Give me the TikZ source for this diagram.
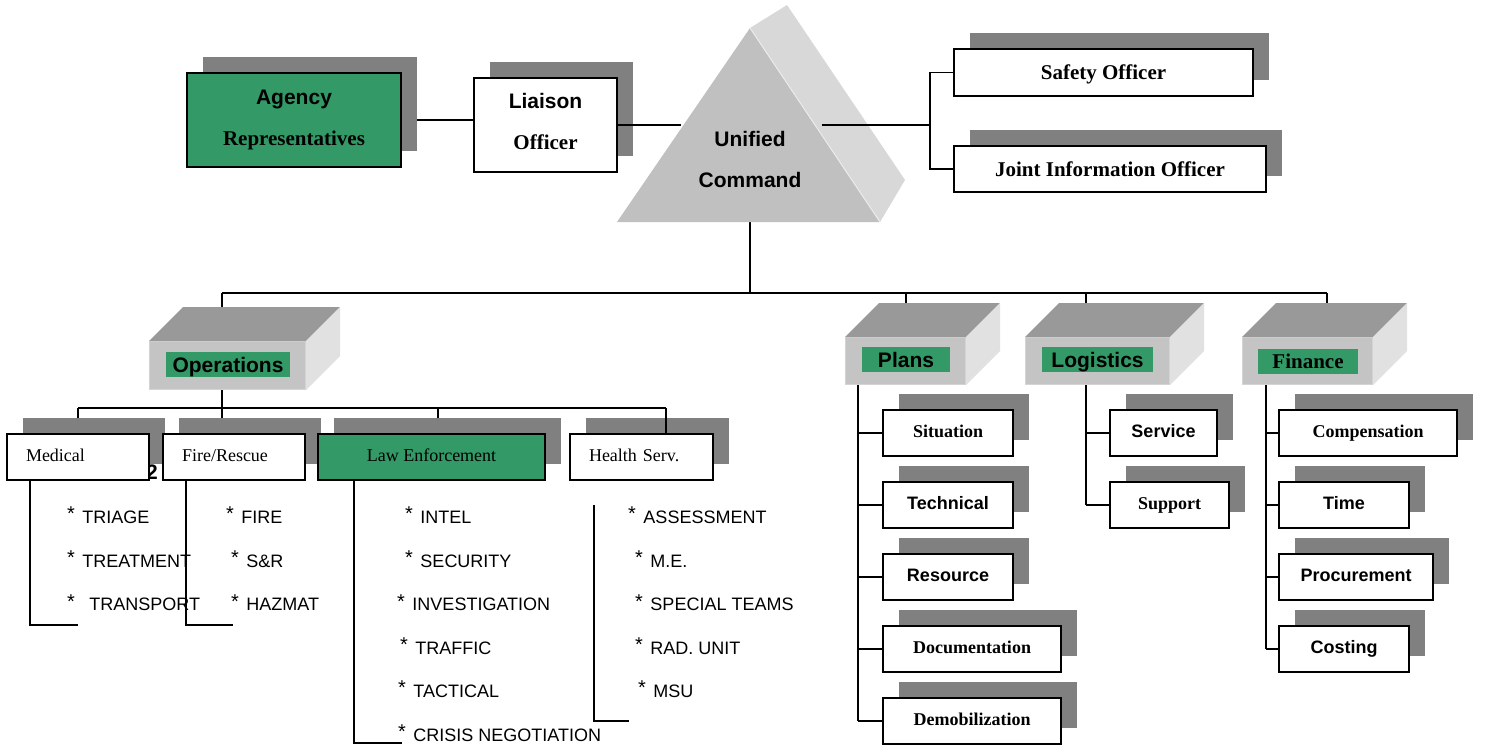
\documentclass[tikz,border=0pt]{standalone}
\usepackage{fontspec}
\setmainfont{Liberation Serif}
\newfontfamily\sansf{Liberation Sans}
\usetikzlibrary{calc,shadows}
\pgfdeclarelayer{back}
\pgfdeclarelayer{bg}
\pgfsetlayers{back,bg,main}
\definecolor{agreen}{RGB}{51,153,102}
\definecolor{shadowgray}{RGB}{128,128,128}
\definecolor{trifront}{RGB}{192,192,192}
\definecolor{triside}{RGB}{216,216,216}
\definecolor{boxtop}{RGB}{153,153,153}
\definecolor{boxfront}{RGB}{196,196,196}
\definecolor{boxedge}{RGB}{212,212,212}
\definecolor{boxside}{RGB}{225,225,225}
\newcommand\itemstar{\raisebox{2.5pt}{\fontsize{20}{20}\selectfont *}\kern7.5pt}
\newcommand\cubefaces[2]{%
  \fill[boxtop] (#1.north west) -- ++(#2,-#2) -- ($(#1.north east)+(#2,-#2)$) -- (#1.north east) -- cycle;
  \fill[boxside] (#1.north east) -- ++(#2,-#2) -- ($(#1.south east)+(#2,-#2)$) -- (#1.south east) -- cycle;}
\begin{document}
\begin{tikzpicture}[x=1pt,y=-1pt,
  conn/.style={line width=1.9pt},
  shbox/.style={draw=black,line width=2.2pt,fill=white,inner sep=0pt,
     general shadow={fill=shadowgray,shadow xshift=16pt,shadow yshift=16pt}},
  gfill/.style={fill=agreen},
  ttlsf/.style={font=\fontsize{21}{41}\selectfont\sansf\bfseries},
  ttlrm/.style={font=\fontsize{21}{41}\selectfont\bfseries},
  subsf/.style={shbox,minimum height=46pt,font=\fontsize{18}{22}\selectfont\sansf\bfseries,text height=9pt,text depth=0pt},
  subrm/.style={shbox,minimum height=46pt,font=\fontsize{18}{22}\selectfont\bfseries,text height=9pt,text depth=0pt},
  unitbox/.style={shbox,minimum height=46pt,font=\fontsize{18}{22}\selectfont,text height=8pt,text depth=0pt},
  item/.style={font=\fontsize{18}{22}\selectfont\sansf,anchor=base west,inner sep=0pt},
  front3d/.style={fill=boxfront,draw=boxedge,line width=1pt,inner sep=0pt},
  glabel/.style={fill=agreen,inner sep=0pt,minimum height=25pt,text height=15pt,text depth=0pt}
]
\begin{pgfonlayer}{back}
\fill[white] (0,0) rectangle (1487,747);
\end{pgfonlayer}
\useasboundingbox (0,0) rectangle (1487,747);

% ---------- Unified command triangle ----------
\fill[triside] (750,28) -- (787,5) -- (905,180) -- (880,222) -- cycle;
\fill[trifront] (617,222) -- (750,28) -- (880,222) -- cycle;
\draw[white!70!trifront,line width=1pt] (750,28) -- (880,222);
\node[ttlsf,align=center,inner sep=0pt] (uc) at (750,159.5) {Unified\\Command};
\coordinate (ucL) at (681,125);
\coordinate (ucR) at (822,125);
\coordinate (ucB) at (750,222);
\coordinate (brk) at (930,125);
\coordinate (bus) at (750,293);

% ---------- top boxes ----------
\node[shbox,gfill,minimum width=214pt,minimum height=94pt,ttlrm,align=center] (agency) at (294,120) {{\sansf Agency}\\Representatives};
\node[shbox,minimum width=143pt,minimum height=94pt,ttlrm,align=center] (liaison) at (545.5,125) {{\sansf Liaison}\\Officer\rule[-8pt]{0pt}{0pt}};
\node[shbox,minimum width=299pt,minimum height=47pt,ttlrm,text height=14pt,text depth=0pt] (safety) at (1103.5,72.5) {Safety Officer};
\node[shbox,minimum width=312pt,minimum height=46pt,ttlrm,text height=14pt,text depth=0pt] (jio) at (1110,169) {Joint Information Officer};

% ---------- section cubes ----------
\node[front3d,minimum width=156pt,minimum height=48pt] (ops) at (227.5,365.5) {};
\cubefaces{ops}{34}
\node[glabel,minimum width=124pt,ttlsf] (opsl) at (228,364.5) {Operations};

\node[front3d,minimum width=120pt,minimum height=47pt] (plans) at (905.5,361) {};
\cubefaces{plans}{34}
\node[glabel,minimum width=88pt,ttlsf] (plansl) at (906,359.5) {Plans};

\node[front3d,minimum width=144pt,minimum height=47pt] (logi) at (1097.5,361) {};
\cubefaces{logi}{34}
\node[glabel,minimum width=111pt,ttlsf] (logil) at (1097.5,359.5) {Logistics};

\node[front3d,minimum width=130pt,minimum height=47pt] (fin) at (1307.5,361) {};
\cubefaces{fin}{34}
\node[glabel,minimum width=100pt,ttlrm] (finl) at (1308,361) {Finance};

% ---------- operations units ----------
\node[font=\fontsize{21}{21}\selectfont\sansf\bfseries,anchor=base east,inner sep=0pt] (two) at (158,479) {2};
\node[unitbox,text width=104pt,align=left,inner xsep=19pt] (med) at (78,457) {Medical};
\node[unitbox,text width=104pt,align=left,inner xsep=19pt] (fire) at (234,457) {Fire/Rescue};
\node[unitbox,gfill,minimum width=227pt] (law) at (431.5,457) {Law Enforcement};
\node[unitbox,text width=105pt,align=left,inner xsep=19pt] (health) at (641.5,457) {Health Serv.};

\node[item] (m1) at (67,523) {\itemstar TRIAGE};
\node[item] (m2) at (67,567) {\itemstar TREATMENT};
\node[item] (m3) at (67,610.5) {\itemstar\kern7pt TRANSPORT};
\node[item] (f1) at (226,523) {\itemstar FIRE};
\node[item] (f2) at (231,567) {\itemstar S\&R};
\node[item] (f3) at (231,610.5) {\itemstar HAZMAT};
\node[item] (l1) at (405,523) {\itemstar INTEL};
\node[item] (l2) at (405,567) {\itemstar SECURITY};
\node[item] (l3) at (397,610.5) {\itemstar INVESTIGATION};
\node[item] (l4) at (400,654) {\itemstar TRAFFIC};
\node[item] (l5) at (398,697) {\itemstar TACTICAL};
\node[item] (l6) at (398,741) {\itemstar CRISIS NEGOTIATION};
\node[item] (h1) at (628,523) {\itemstar ASSESSMENT};
\node[item] (h2) at (635,567) {\itemstar M.E.};
\node[item] (h3) at (635,610.5) {\itemstar SPECIAL TEAMS};
\node[item] (h4) at (635,654) {\itemstar RAD. UNIT};
\node[item] (h5) at (638,697) {\itemstar MSU};

% ---------- plans / logistics / finance units ----------
\node[subrm,minimum width=130pt] (sit) at (948,433) {Situation};
\node[subsf,minimum width=130pt] (tech) at (948,505) {Technical};
\node[subsf,minimum width=130pt] (res) at (948,577) {Resource};
\node[subrm,minimum width=178pt] (doc) at (972,649) {Documentation};
\node[subrm,minimum width=178pt] (demob) at (972,721) {Demobilization};

\node[subsf,minimum width=107pt] (serv) at (1163.5,433) {Service};
\node[subrm,minimum width=119pt] (supp) at (1169.5,505) {Support};

\node[subrm,minimum width=178pt] (comp) at (1368,433) {Compensation};
\node[subsf,minimum width=130pt] (time) at (1344,505) {Time};
\node[subsf,minimum width=154pt] (proc) at (1356,577) {Procurement};
\node[subsf,minimum width=130pt] (cost) at (1344,649) {Costing};

% ---------- junction coordinates ----------
\coordinate (bOps) at (222,293);
\coordinate (bPlans) at (906,293);
\coordinate (bLog) at (1086,293);
\coordinate (bFin) at (1327,293);
\coordinate (sbM) at (78,408);
\coordinate (sbF) at (222,408);
\coordinate (sbL) at (438,408);
\coordinate (sbH) at (666,408);
\coordinate (mV) at (30,625);
\coordinate (mE) at (78,625);
\coordinate (fV) at (186,625);
\coordinate (fE) at (233,625);
\coordinate (lV) at (354,743);
\coordinate (lE) at (402,743);
\coordinate (hT) at (594,505);
\coordinate (hV) at (594,721);
\coordinate (hE) at (629,721);
\coordinate (pV) at (858,721);
\coordinate (lgV) at (1086,505);
\coordinate (fnV) at (1266,649);

% ---------- connectors (behind) ----------
\begin{pgfonlayer}{bg}
\draw[conn] (agency.east) -- (agency.east -| liaison.west);
\draw[conn] (safety.west) -| (brk) |- (jio.west);
\draw[conn] (ucB) -- (bus);
\draw[conn] (bOps) -- (bFin);
\draw[conn] (bOps) -- (bOps |- ops.north);
\draw[conn] (bPlans) -- (bPlans |- plans.north);
\draw[conn] (bLog) -- (bLog |- logi.north);
\draw[conn] (bFin) -- (bFin |- fin.north);
\draw[conn] (ops.south -| sbF) -- (sbF);
\draw[conn] (sbM) -- (sbH);
\draw[conn] (sbM) -- (sbM |- med.north);
\draw[conn] (sbF) -- (sbF |- fire.north);
\draw[conn] (sbL) -- (sbL |- law.north);
\draw[conn] (med.south -| mV) -- (mV) -- (mE);
\draw[conn] (fire.south -| fV) -- (fV) -- (fE);
\draw[conn] (law.south -| lV) -- (lV) -- (lE);
\draw[conn] (hT) -- (hV) -- (hE);
\draw[conn] (plans.south -| pV) -- (pV);
\foreach \n in {sit,tech,res,doc,demob} \draw[conn] (pV |- \n.west) -- (\n.west);
\draw[conn] (logi.south -| lgV) -- (lgV);
\foreach \n in {serv,supp} \draw[conn] (lgV |- \n.west) -- (\n.west);
\draw[conn] (fin.south -| fnV) -- (fnV);
\foreach \n in {comp,time,proc,cost} \draw[conn] (fnV |- \n.west) -- (\n.west);
\end{pgfonlayer}

% ---------- connectors (in front) ----------
\draw[conn] (liaison.east) -- (ucL);
\draw[conn] (ucR) -- (brk);
\draw[conn] (sbH) -- (sbH |- health.north);
\end{tikzpicture}
\end{document}
